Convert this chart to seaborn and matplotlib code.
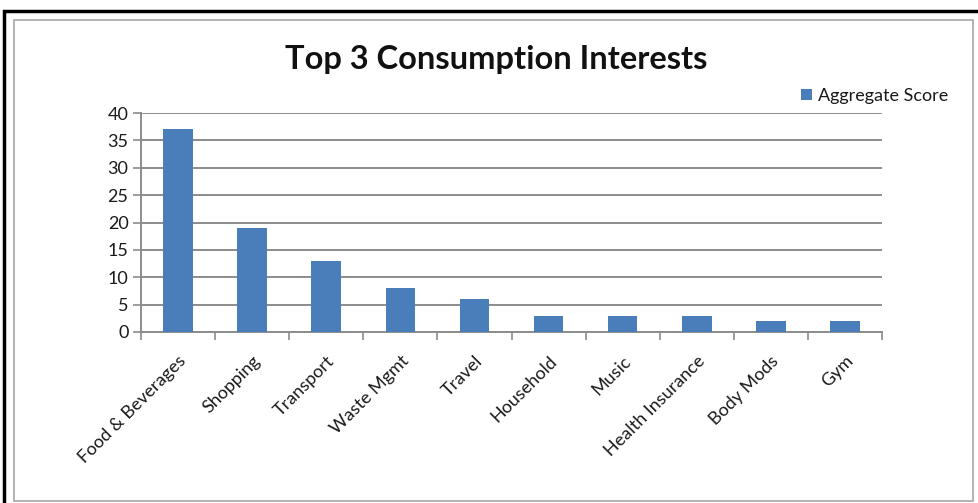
import matplotlib
matplotlib.use("Agg")
import matplotlib.pyplot as plt
import seaborn as sns
import pandas as pd
from matplotlib.patches import Rectangle

categories = ["Food & Beverages", "Shopping", "Transport", "Waste Mgmt", "Travel",
              "Household", "Music", "Health Insurance", "Body Mods", "Gym"]
scores = [37, 19, 13, 8, 6, 3, 3, 3, 2, 2]
series_name = "Aggregate Score"
title = "Top 3 Consumption Interests"
yticks = [0, 5, 10, 15, 20, 25, 30, 35, 40]

sns.set_theme(style="white")
plt.rcParams['font.family'] = ['Lato', 'DejaVu Sans']

df = pd.DataFrame({"cat": categories, "score": scores})

W, H = 979, 503
fig = plt.figure(figsize=(W / 100, H / 100), dpi=100)
fig.patch.set_facecolor("white")

# outer black frame and inner gray chart-area frame
fig.add_artist(Rectangle((4 / W, -0.05), 1.2, 1 - 11 / H + 0.05, transform=fig.transFigure,
                         fill=False, edgecolor="black", linewidth=2.5))
fig.add_artist(Rectangle((14 / W, 1 - 501 / H), (973 - 14) / W, (501 - 20) / H,
                         transform=fig.transFigure, fill=False, edgecolor="#a6a6a6", linewidth=1.2))

ax = fig.add_axes([141 / W, 1 - 332 / H, (882 - 141) / W, (332 - 113) / H])
sns.barplot(data=df, x="cat", y="score", color="#4a7ebb", width=0.4, saturation=1,
            label=series_name, ax=ax, zorder=3, linewidth=0)

ax.set_ylim(0, 40)
ax.set_xlim(-0.5, len(categories) - 0.5)
ax.set_yticks(yticks)
ax.set_yticklabels([str(v) for v in yticks], fontsize=13, color="#1a1a1a")
ax.yaxis.grid(True, color="#8c8c8c", linewidth=1.4, zorder=0)
ax.set_axisbelow(True)
ax.set_xlabel("")
ax.set_ylabel("")

# category ticks at boundaries, labels at centers
ax.set_xticks([i - 0.5 for i in range(len(categories) + 1)])
ax.set_xticklabels([])
ax.set_xticks(range(len(categories)), minor=True)
ax.set_xticklabels(categories, minor=True, rotation=45, ha="right",
                   rotation_mode="anchor", fontsize=13, color="#1a1a1a")
ax.tick_params(axis="x", which="major", length=6, width=1.2, color="#8c8c8c", direction="out", bottom=True)
ax.tick_params(axis="x", which="minor", length=0, pad=15)
ax.tick_params(axis="y", length=6, width=1.2, color="#8c8c8c", direction="out", left=True, pad=3)

for s in ["top", "right"]:
    ax.spines[s].set_visible(False)
for s in ["left", "bottom"]:
    ax.spines[s].set_color("#8c8c8c")
    ax.spines[s].set_linewidth(1.4)

leg = ax.legend(loc="center left", bbox_to_anchor=(801 / W, 1 - 96 / H), bbox_transform=fig.transFigure,
                frameon=False, fontsize=13, handlelength=0.6, handleheight=0.6, handletextpad=0.35,
                borderpad=0, borderaxespad=0)
for t in leg.get_texts():
    t.set_color("#1a1a1a")

fig.text(496 / W, 1 - 60 / H, title, ha="center", va="center", fontsize=23.5,
         fontweight="bold", color="#111111")

fig.savefig("out.png", dpi=100, facecolor="white")
